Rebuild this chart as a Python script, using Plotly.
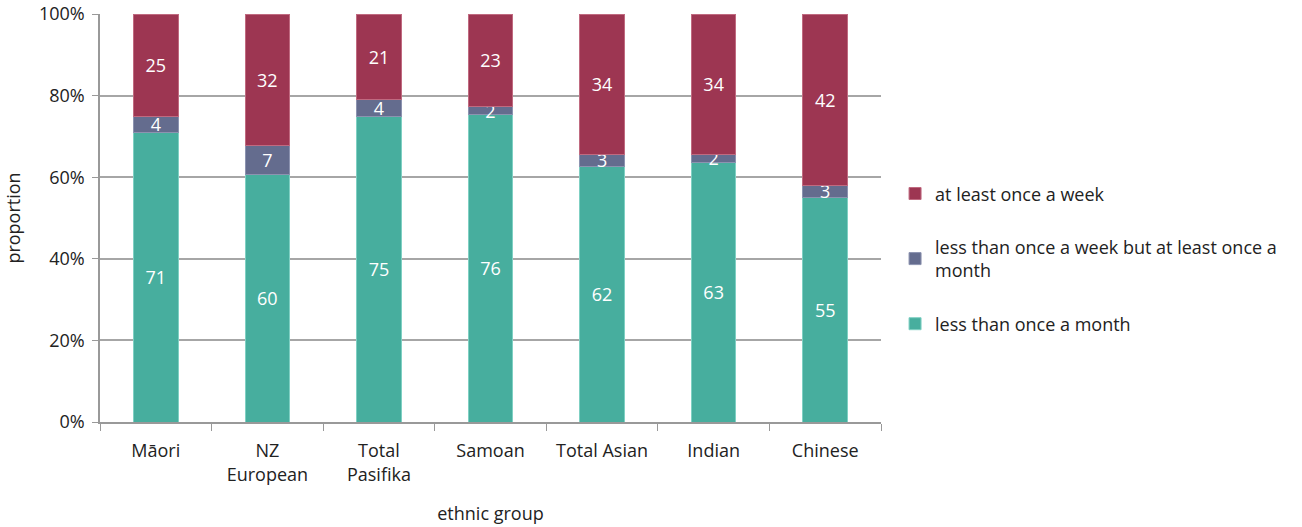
import plotly.graph_objects as go

groups = ["Māori", "NZ<br>European", "Total<br>Pasifika", "Samoan", "Total Asian", "Indian", "Chinese"]
monthly_less = [71, 60, 75, 76, 62, 63, 55]
monthly_weekly = [4, 7, 4, 2, 3, 2, 3]
weekly_plus = [25, 32, 21, 23, 34, 34, 42]

series = [
    ("less than once a month", monthly_less, "#47AE9E", "#7fd0c3", 3),
    ("less than once a week but at least once a<br>month", monthly_weekly, "#646C8E", "#8c93b0", 2),
    ("at least once a week", weekly_plus, "#9D3652", "#c06a80", 1),
]

FONT = "'Open Sans', Lato, sans-serif"
FS = 18

fig = go.Figure()
for name, vals, color, edge, rank in series:
    fig.add_trace(go.Bar(
        x=groups, y=vals, name=name, legendgroup=name, legendrank=rank,
        marker=dict(color=color, line=dict(color=edge, width=1)),
        text=[str(v) for v in vals],
        textposition="inside", insidetextanchor="middle",
        textangle=0, constraintext="none",
        textfont=dict(color="white", size=FS, family=FONT),
    ))

fig.update_layout(
    barmode="stack", barnorm="fraction", bargap=0.6,
    width=1302, height=527,
    margin=dict(l=100, r=421, t=14, b=105, autoexpand=False),
    paper_bgcolor="white", plot_bgcolor="white",
    font=dict(family=FONT, size=FS, color="#222"),
    legend=dict(
        x=1.018, y=0.40, xanchor="left", yanchor="middle",
        traceorder="grouped", tracegroupgap=27,
        font=dict(size=FS), itemwidth=30,
    ),
    uniformtext=dict(mode="show", minsize=FS),
)
fig.update_xaxes(
    automargin=False,
    showline=True, linecolor="#999", linewidth=1.5,
    ticks="outside", tickson="boundaries", ticklen=7, tickcolor="#999",
    ticklabelstandoff=12,
    tickfont=dict(size=FS),
    title=dict(text="ethnic group", standoff=23, font=dict(size=FS)),
)
fig.update_yaxes(
    automargin=False,
    range=[0, 1], dtick=0.2, tickformat=".0%",
    showgrid=True, gridcolor="#a6a6a6", gridwidth=1.5,
    showline=True, linecolor="#999", linewidth=1.5,
    ticks="outside", ticklen=6, tickcolor="#999",
    ticklabelstandoff=4,
    tickfont=dict(size=FS),
    title=dict(text="proportion", standoff=14, font=dict(size=FS)),
)

fig.write_html("out.html", config={"displayModeBar": False},
               post_script="document.body.style.margin='0';")
